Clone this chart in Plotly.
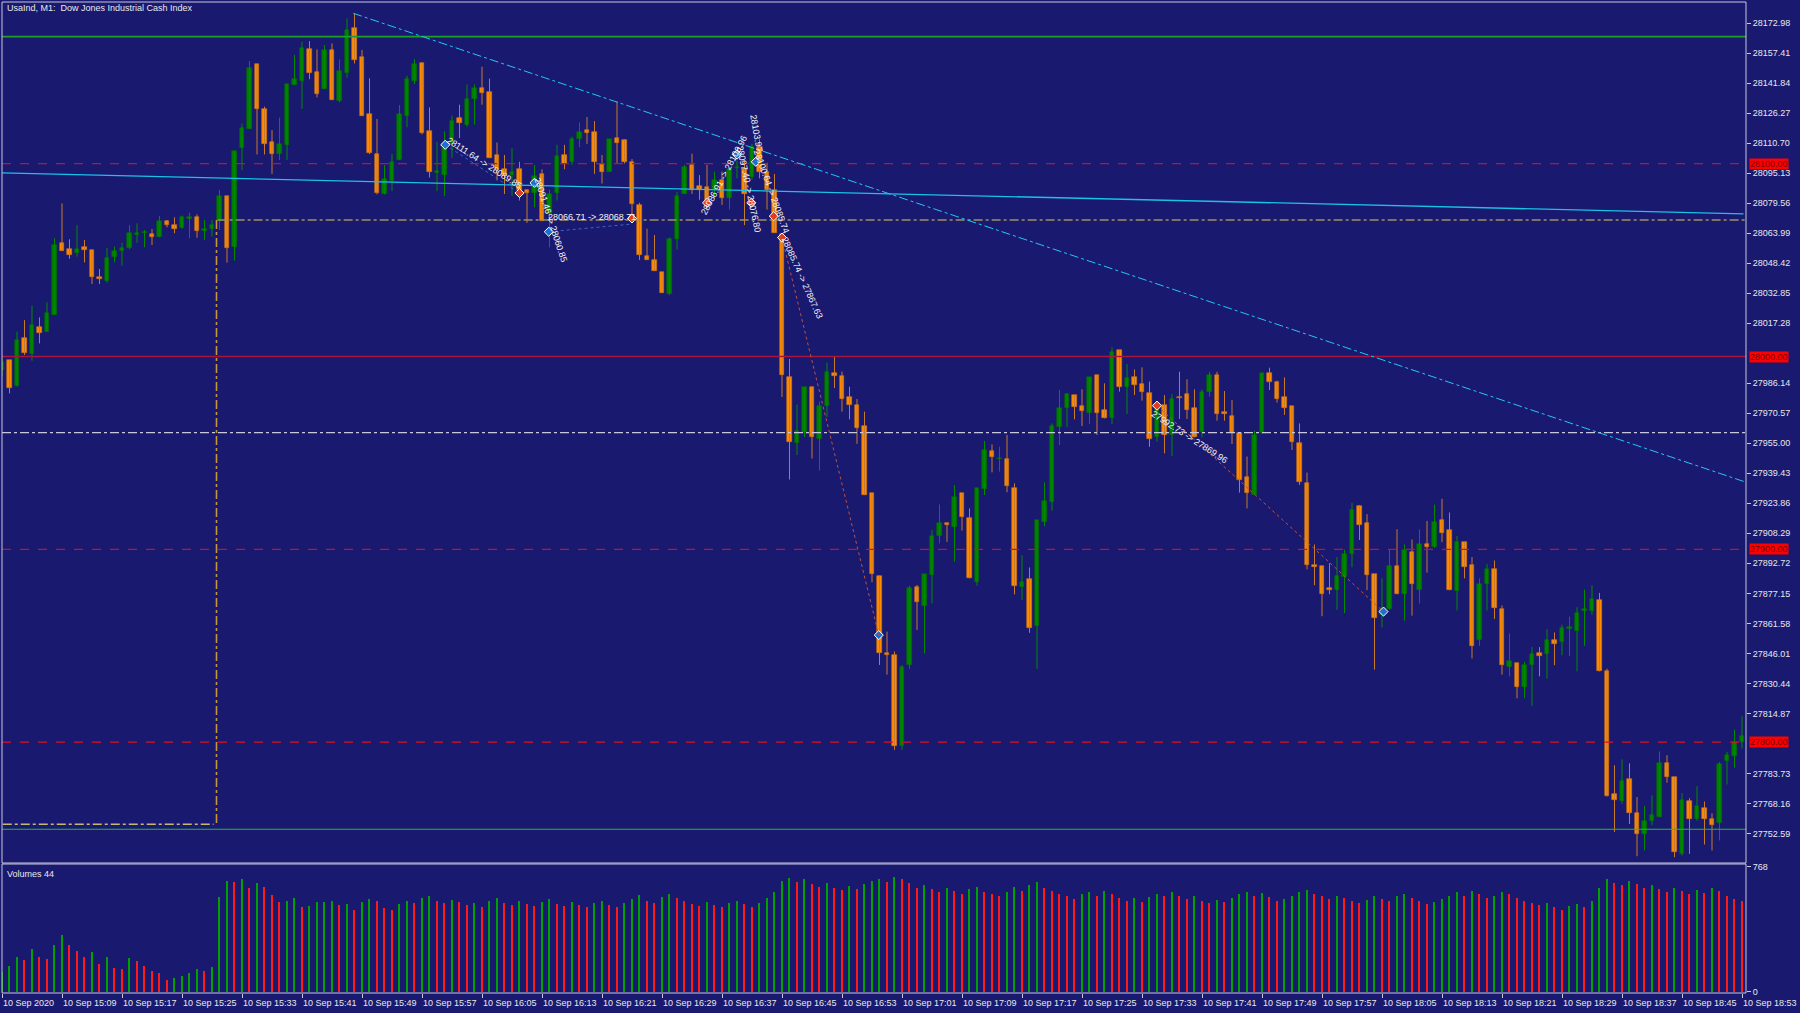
import plotly.graph_objects as go

# ---------------- data ----------------
open_ = [27993.0,27998.2,27984.7,28009.4,28001.3,28015.1,28012.9,28021.5,28058.7,28055.7,
         28053.9,28057.0,28055.2,28041.0,28039.2,28051.8,28054.7,28056.1,28063.0,28063.9,
         28063.4,28062.2,28070.1,28068.0,28066.8,28071.5,28072.2,28065.3,28066.0,28070.4,
         28083.2,28057.0,28108.0,28118.0,28151.5,28128.2,28111.4,28104.8,28109.7,28140.8,
         28142.9,28159.5,28147.4,28138.7,28159.0,28132.7,28146.9,28170.2,28155.2,28125.8,
         28105.0,28084.1,28091.2,28101.9,28124.7,28142.9,28152.4,28117.1,28095.4,28094.1,
         28111.0,28123.7,28120.2,28133.4,28139.4,28137.1,28104.5,28097.5,28094.1,28097.5,
         28086.6,28085.0,28094.7,28073.9,28084.8,28104.5,28101.0,28112.6,28117.4,28116.3,
         28099.9,28095.9,28113.3,28112.1,28101.0,28078.6,28051.9,28050.1,28043.8,28032.3,
         28060.7,28084.3,28099.4,28088.3,28087.8,28086.6,28091.8,28082.0,28098.0,28097.1,
         28093.1,28108.6,28095.9,28086.6,28063.5,27989.4,27955.2,27960.5,27984.1,27957.0,
         27974.4,27991.3,27990.1,27979.0,27975.1,27964.0,27929.2,27886.4,27846.0,27845.2,
         27798.0,27840.0,27880.6,27870.8,27886.7,27906.9,27913.5,27911.7,27929.0,27916.4,
         27883.2,27931.1,27951.0,27946.8,27946.8,27931.9,27880.6,27884.4,27860.2,27914.3,
         27924.7,27963.6,27973.1,27980.0,27974.3,27970.9,27990.4,27972.3,27968.3,28003.4,
         27984.4,27989.2,27985.7,27980.9,27958.4,27974.8,27959.3,27979.2,27980.6,27973.1,
         27961.0,27981.8,27990.4,27971.4,27969.3,27960.1,27937.3,27928.2,27960.1,27991.3,
         27987.0,27979.2,27974.3,27955.3,27934.6,27891.9,27891.1,27880.0,27878.8,27885.8,
         27897.7,27922.3,27913.9,27887.2,27866.1,27868.8,27891.1,27876.7,27898.4,27878.8,
         27903.0,27901.0,27915.3,27910.0,27878.4,27903.9,27891.9,27852.8,27882.0,27889.9,
         27868.8,27838.8,27841.1,27828.8,27840.2,27846.4,27845.5,27853.0,27852.0,27858.7,
         27857.8,27868.2,27867.9,27873.9,27837.1,27773.2,27769.7,27780.9,27763.1,27752.2,
         27759.0,27761.0,27789.4,27781.8,27742.0,27769.2,27759.9,27765.7,27759.9,27757.8,
         27790.2,27792.9,27799.9]
high = [27999.0,27998.2,28012.9,28018.9,28026.4,28020.3,28028.1,28061.3,28079.4,28060.8,
        28068.2,28060.4,28055.2,28045.4,28056.4,28057.0,28059.0,28068.2,28069.1,28065.6,
        28066.1,28072.9,28070.8,28072.2,28073.1,28074.6,28073.7,28070.8,28070.8,28086.4,
        28083.2,28106.6,28120.9,28153.3,28151.5,28129.6,28117.5,28123.9,28141.1,28156.4,
        28163.3,28163.6,28159.3,28161.6,28162.4,28154.1,28175.4,28178.0,28159.0,28144.3,
        28123.2,28099.3,28105.0,28130.4,28145.6,28154.3,28152.4,28129.2,28111.4,28116.8,
        28124.9,28130.6,28141.1,28141.1,28150.3,28144.1,28111.0,28104.5,28108.0,28101.0,
        28086.6,28099.4,28097.1,28086.6,28109.8,28109.8,28114.0,28121.4,28124.2,28122.1,
        28104.5,28112.6,28132.3,28112.6,28102.4,28079.7,28066.3,28063.0,28043.8,28061.7,
        28085.5,28099.4,28105.2,28094.1,28099.4,28095.9,28095.9,28098.2,28101.7,28101.7,
        28110.3,28112.6,28100.5,28094.7,28063.5,27998.7,27975.1,27984.1,27984.1,27976.7,
        27996.8,27999.8,27992.2,27984.3,27977.9,27971.4,27929.2,27886.4,27857.3,27847.0,
        27840.0,27881.0,27881.5,27887.0,27910.0,27923.3,27913.8,27933.3,27929.0,27921.2,
        27931.9,27956.2,27954.4,27953.2,27959.3,27934.2,27897.0,27890.6,27915.2,27934.7,
        27965.3,27982.6,27980.9,27980.0,27983.0,27989.2,27990.4,27986.1,28004.8,28003.4,
        27996.1,27993.3,27994.4,27987.0,27974.8,27980.0,27980.5,27992.1,27988.2,27983.0,
        27983.0,27992.1,27992.1,27982.1,27977.4,27960.1,27948.1,27961.5,27991.3,27994.2,
        27987.5,27989.2,27974.3,27965.3,27939.8,27902.5,27891.1,27892.8,27896.0,27899.8,
        27924.1,27923.0,27918.2,27887.2,27884.9,27899.8,27910.4,27902.5,27905.1,27910.4,
        27914.7,27923.2,27926.2,27919.1,27906.9,27903.9,27896.0,27884.9,27892.3,27894.2,
        27870.9,27856.3,27841.1,27841.6,27849.3,27849.3,27858.6,27856.9,27860.9,27865.1,
        27870.0,27879.1,27881.4,27877.4,27838.1,27788.0,27791.1,27789.0,27771.5,27766.9,
        27772.4,27795.2,27793.2,27781.8,27773.6,27770.9,27777.1,27769.2,27763.1,27789.7,
        27795.0,27806.4,27813.4]
low = [27990.0,27980.9,27984.4,28000.8,27997.8,28006.8,28012.9,28021.5,28054.9,28050.7,
       28051.8,28048.8,28037.6,28037.6,28038.3,28048.8,28047.1,28055.7,28059.0,28056.6,
       28057.8,28061.8,28067.0,28063.9,28066.3,28061.3,28061.6,28060.4,28062.2,28065.6,
       28048.7,28049.7,28096.7,28118.0,28104.8,28104.8,28094.7,28101.9,28101.9,28140.8,
       28128.4,28143.8,28134.4,28138.7,28133.0,28131.8,28144.6,28152.0,28124.7,28105.0,
       28084.1,28084.1,28085.8,28101.9,28118.9,28141.3,28115.2,28092.9,28085.8,28083.2,
       28102.9,28113.3,28119.1,28120.2,28130.6,28102.9,28091.3,28084.3,28083.2,28080.9,
       28069.3,28077.4,28070.5,28056.6,28080.9,28097.1,28099.4,28108.6,28110.3,28094.7,
       28089.7,28095.9,28100.1,28100.1,28070.9,28050.1,28050.1,28044.3,28032.9,28031.8,
       28055.4,28084.3,28084.3,28081.3,28076.2,28082.0,28078.6,28076.2,28092.4,28068.1,
       28091.8,28092.4,28076.2,28064.0,27979.0,27936.2,27948.9,27958.2,27947.1,27940.8,
       27968.6,27983.6,27971.4,27967.4,27954.7,27928.1,27882.9,27840.0,27835.0,27796.0,
       27796.0,27838.0,27858.1,27846.0,27872.0,27903.1,27903.9,27893.6,27909.7,27884.9,
       27881.1,27928.2,27939.9,27940.3,27929.6,27876.6,27873.7,27856.7,27838.0,27912.0,
       27920.0,27954.1,27963.3,27967.4,27963.9,27965.0,27959.3,27967.9,27965.0,27981.8,
       27970.2,27980.0,27977.1,27953.2,27955.8,27949.8,27948.4,27967.6,27967.6,27958.1,
       27958.1,27979.2,27966.7,27966.7,27954.6,27929.4,27921.2,27928.2,27959.8,27982.6,
       27976.1,27969.7,27951.5,27933.4,27889.6,27881.4,27865.3,27876.7,27868.6,27866.9,
       27890.7,27904.8,27878.8,27837.6,27859.5,27868.8,27876.7,27863.0,27865.6,27871.8,
       27887.9,27900.7,27903.7,27878.8,27868.3,27884.9,27843.4,27849.9,27868.3,27863.9,
       27835.0,27834.1,27822.7,27822.7,27818.8,27834.1,27832.9,27839.9,27845.1,27844.6,
       27836.7,27849.9,27866.1,27836.7,27771.8,27753.4,27768.0,27757.5,27740.8,27743.8,
       27756.9,27761.0,27778.9,27740.3,27741.1,27742.0,27759.2,27746.9,27743.8,27749.0,
       27778.0,27786.7,27796.7]
close = [27997.3,27983.5,28008.6,28002.0,28016.2,28012.0,28022.4,28057.8,28054.9,28052.6,
         28055.9,28055.2,28041.0,28040.2,28050.9,28054.9,28056.4,28064.2,28064.2,28064.4,
         28062.2,28070.1,28068.0,28066.0,28072.4,28072.4,28065.1,28066.1,28068.0,28083.2,
         28056.1,28106.6,28118.3,28149.8,28128.2,28110.1,28104.8,28110.0,28141.1,28143.8,
         28160.2,28147.2,28136.0,28159.0,28133.0,28148.1,28169.3,28153.8,28124.7,28105.7,
         28085.0,28091.9,28101.1,28125.6,28143.9,28151.5,28116.1,28095.9,28096.4,28108.6,
         28121.9,28120.9,28133.4,28139.4,28136.9,28102.9,28097.1,28094.1,28095.9,28086.6,
         28085.0,28093.6,28070.5,28084.3,28104.0,28100.1,28112.6,28116.3,28116.0,28101.0,
         28095.9,28112.6,28111.0,28101.0,28079.3,28052.6,28050.1,28044.3,28032.9,28060.7,
         28083.2,28098.2,28086.6,28086.6,28079.7,28091.8,28082.0,28097.1,28098.4,28084.3,
         28108.6,28095.9,28086.6,28064.0,27990.6,27955.9,27961.6,27984.1,27958.2,27974.4,
         27992.2,27990.1,27977.9,27975.1,27962.8,27928.1,27887.1,27846.0,27845.2,27798.0,
         27839.0,27879.7,27872.8,27887.0,27907.1,27913.5,27912.6,27926.9,27916.6,27884.9,
         27931.9,27951.5,27947.7,27947.5,27933.0,27881.1,27883.2,27859.0,27915.2,27925.0,
         27963.9,27973.1,27980.6,27974.0,27971.7,27989.2,27970.9,27967.9,28002.2,27984.4,
         27989.0,27985.2,27981.8,27957.0,27974.0,27959.3,27977.8,27978.3,27972.2,27958.1,
         27981.8,27990.4,27970.2,27970.2,27960.5,27935.9,27929.0,27959.3,27991.3,27986.6,
         27977.8,27973.1,27955.8,27935.1,27891.9,27890.7,27876.7,27879.1,27886.2,27897.7,
         27920.4,27912.6,27886.7,27864.4,27869.2,27891.4,27876.7,27899.5,27882.0,27902.5,
         27901.0,27914.4,27908.6,27878.8,27903.9,27890.7,27849.9,27882.0,27889.7,27869.7,
         27839.9,27842.0,27828.8,27839.9,27845.5,27844.6,27852.8,27851.1,27859.2,27859.6,
         27866.9,27868.8,27874.4,27836.7,27771.8,27770.1,27779.7,27763.1,27752.2,27759.2,
         27762.2,27789.4,27782.0,27742.9,27770.1,27759.9,27766.9,27759.9,27756.9,27788.5,
         27793.2,27799.9,27803.0]
volume = [120,158,215,195,262,215,201,285,348,285,250,215,244,170,215,148,139,209,188,158,
          129,117,72,82,96,117,139,129,152,584,682,676,692,637,666,641,596,551,559,578,
          520,526,551,553,555,533,539,502,551,571,559,514,502,
          540,560,545,575,590,560,548,566,552,530,
          545,520,560,575,548,535,560,540,525,552,
          568,540,528,552,535,520,548,560,533,518,
          546,570,592,560,545,580,600,575,560,540,
          525,550,532,518,545,560,538,522,548,575,
          610,680,700,672,690,660,645,668,640,625,
          650,630,662,680,695,672,705,690,668,640,
          655,630,615,640,620,600,628,645,612,598,
          585,610,642,620,655,675,640,618,600,588,
          570,598,615,590,620,600,578,560,575,550,
          580,600,588,612,590,570,585,560,545,565,
          550,575,600,612,590,605,580,560,572,590,
          610,625,600,585,570,590,575,560,548,565,
          590,572,560,585,600,575,560,540,552,568,
          590,610,585,620,600,575,590,612,598,575,
          560,548,530,545,520,505,525,540,520,560,
          640,690,670,655,680,660,640,655,630,610,
          640,620,600,625,605,640,620,590,570,555]
tick_labels = ["10 Sep 2020", "10 Sep 15:09", "10 Sep 15:17", "10 Sep 15:25", "10 Sep 15:33",
               "10 Sep 15:41", "10 Sep 15:49", "10 Sep 15:57", "10 Sep 16:05", "10 Sep 16:13",
               "10 Sep 16:21", "10 Sep 16:29", "10 Sep 16:37", "10 Sep 16:45", "10 Sep 16:53",
               "10 Sep 17:01", "10 Sep 17:09", "10 Sep 17:17", "10 Sep 17:25", "10 Sep 17:33",
               "10 Sep 17:41", "10 Sep 17:49", "10 Sep 17:57", "10 Sep 18:05", "10 Sep 18:13",
               "10 Sep 18:21", "10 Sep 18:29", "10 Sep 18:37", "10 Sep 18:45", "10 Sep 18:53"]
tick_bars = list(range(0, 233, 8))
price_ticks = [28172.98, 28157.41, 28141.84, 28126.27, 28110.70, 28095.13, 28079.56, 28063.99,
               28048.42, 28032.85, 28017.28, 27986.14, 27970.57, 27955.00, 27939.43, 27923.86,
               27908.29, 27892.72, 27877.15, 27861.58, 27846.01, 27830.44, 27814.87, 27783.73,
               27768.16, 27752.59]
level_labels = [28100.0, 28000.0, 27900.0, 27800.0]

# trade-history marks: (bar, price)
buy_marks = [(59.1, 28109.8), (71.0, 28090.1), (72.9, 28064.7), (98.0, 28104.7),
             (100.5, 28101.0), (116.9, 27855.5), (184.2, 27867.7)]
sell_marks = [(69.0, 28084.8), (84.0, 28071.6), (94.0, 28079.7), (99.9, 28079.7),
              (102.9, 28072.8), (104.0, 28061.7), (154.0, 27974.5)]
trade_texts = [("28111.64 -> 28089.85", 64.3, 28100.5, 33),
               ("28091.46 -> 28060.85", 73.2, 28071.0, 72),
               ("28066.71 -> 28068.71", 78.6, 28072.5, 0),
               ("28086.91 -> 28106.96", 96.3, 28094.0, -62),
               ("28103.97", 100.6, 28116.0, 80),
               ("28097.40 -> 28076.80", 99.6, 28087.0, 78),
               ("28100.64 -> 28085.74", 102.6, 28086.0, 70),
               ("28085.74 -> 27867.63", 106.6, 28041.0, 66),
               ("27992.73 -> 27869.96", 158.3, 27958.0, 33)]

# ---------------- geometry ----------------
W, H = 1800, 1013
BG = "#191970"
X0, X1 = 2, 1746
STEP = 7.5
xr = [(X0 - 2) / STEP, (X1 - 2) / STEP]
P_TOP, P_BOT = 2, 863
V_TOP, V_BOT = 864, 993
PX_PER_PT = 1.928
PRICE_AT_0 = 28184.91
yr = [PRICE_AT_0 - P_BOT / PX_PER_PT, PRICE_AT_0 - P_TOP / PX_PER_PT]
VZERO_PX, VMAX_PX = 991.7, 866.7
vscale = (VZERO_PX - VMAX_PX) / 768.0
vr = [-(V_BOT - VZERO_PX) / vscale, 768 + (VMAX_PX - V_TOP) / vscale]


def py(px):
    return 1 - px / H


def pxx(px):
    return px / W


n = len(open_)
idx = list(range(n))
bull = [c >= o for o, c in zip(open_, close)]

fig = go.Figure()

# wicks
for is_bull, col in [(True, "#008a00"), (False, "#c87a2a")]:
    xs, ys = [], []
    for i in idx:
        if bull[i] == is_bull:
            xs += [i, i, None]
            ys += [low[i], high[i], None]
    fig.add_trace(go.Scatter(x=xs, y=ys, mode="lines", line=dict(color=col, width=1),
                             hoverinfo="skip", showlegend=False, xaxis="x", yaxis="y"))

# bodies
for is_bull, fill, edge in [(True, "#008000", "#006a00"), (False, "#ff8c00", "#d07010")]:
    sel = [i for i in idx if bull[i] == is_bull]
    fig.add_trace(go.Bar(
        x=sel,
        base=[min(open_[i], close[i]) for i in sel],
        y=[max(abs(close[i] - open_[i]), 0.55) for i in sel],
        width=0.64, marker=dict(color=fill, line=dict(color=edge, width=0.6)),
        hoverinfo="skip", showlegend=False, xaxis="x", yaxis="y"))

# volumes (MT4 colouring: green when volume grows, red when it falls)
vcol = ["#00a000"] + ["#00a000" if volume[i] > volume[i - 1] else "#ff1a1a" for i in range(1, n)]
fig.add_trace(go.Bar(x=idx, y=volume, width=0.2, marker=dict(color=vcol, line=dict(width=0)),
                     hoverinfo="skip", showlegend=False, xaxis="x2", yaxis="y2"))

# trade marks
fig.add_trace(go.Scatter(x=[b[0] for b in buy_marks], y=[b[1] for b in buy_marks], mode="markers",
                         marker=dict(symbol="diamond", size=7, color="#1e6fd0",
                                     line=dict(color="white", width=1)),
                         hoverinfo="skip", showlegend=False, xaxis="x", yaxis="y"))
fig.add_trace(go.Scatter(x=[s[0] for s in sell_marks], y=[s[1] for s in sell_marks], mode="markers",
                         marker=dict(symbol="diamond", size=7, color="#e03c1e",
                                     line=dict(color="white", width=1)),
                         hoverinfo="skip", showlegend=False, xaxis="x", yaxis="y"))

shapes = []


def hline(price, color, dash, width=1, x0=None, x1=None):
    if x0 is None:
        shapes.append(dict(type="line", xref="paper", yref="y", x0=pxx(X0), x1=pxx(X1),
                           y0=price, y1=price, line=dict(color=color, dash=dash, width=width)))
    else:
        shapes.append(dict(type="line", xref="x", yref="y", x0=x0, x1=x1,
                           y0=price, y1=price, line=dict(color=color, dash=dash, width=width)))


hline(28165.9, "#1f9e2a", "solid", 1.6)
hline(28100.0, "#c8102e", "dash", 1.3)
hline(28000.0, "#a8143c", "solid", 1.3)
hline(27960.5, "#c8c8dc", "dashdot", 1.3)
hline(27900.0, "#c8102e", "dash", 1.3)
hline(27800.0, "#e0101e", "dash", 1.1)
hline(27754.8, "#22c022", "solid", 1.2)
hline(28070.8, "#a09060", "dashdot", 1.6, 28.75, xr[1])
hline(27757.4, "#c8b878", "dashdot", 1.3, 0.1, 28.2)
shapes.append(dict(type="line", xref="x", yref="y", x0=28.6, x1=28.6, y0=28070.8, y1=27757.4,
                   line=dict(color="#c8963c", dash="dashdot", width=1.6)))
# cyan trend lines
shapes.append(dict(type="line", xref="x", yref="y", x0=xr[0], x1=232.2, y0=28095.2, y1=28074.0,
                   line=dict(color="#19c3e6", width=1.3)))
shapes.append(dict(type="line", xref="x", yref="y", x0=46.84, x1=xr[1], y0=28178.0, y1=27934.8,
                   line=dict(color="#22c8f0", dash="dashdot", width=1)))
# trade link lines
shapes.append(dict(type="line", xref="x", yref="y", x0=104.0, x1=116.9, y0=28061.7, y1=27855.5,
                   line=dict(color="#c0503c", dash="dot", width=1)))
shapes.append(dict(type="line", xref="x", yref="y", x0=154.0, x1=184.2, y0=27974.5, y1=27867.7,
                   line=dict(color="#c0503c", dash="dot", width=1)))
shapes.append(dict(type="line", xref="x", yref="y", x0=59.1, x1=69.0, y0=28109.8, y1=28084.8,
                   line=dict(color="#3c64c8", dash="dot", width=1)))
shapes.append(dict(type="line", xref="x", yref="y", x0=72.9, x1=84.0, y0=28064.7, y1=28068.7,
                   line=dict(color="#3c64c8", dash="dot", width=1)))
# panel frames
for top, bot in [(P_TOP, P_BOT), (V_TOP, V_BOT)]:
    shapes.append(dict(type="rect", xref="paper", yref="paper", x0=pxx(X0), x1=pxx(X1),
                       y0=py(bot), y1=py(top), line=dict(color="#c8c8d8", width=1),
                       fillcolor="rgba(0,0,0,0)"))

annotations = []
FONT = "Liberation Sans, Arial, sans-serif"
annotations.append(dict(text="UsaInd, M1:  Dow Jones Industrial Cash Index", xref="paper", yref="paper",
                        x=pxx(5), y=py(8), xanchor="left", yanchor="middle", showarrow=False,
                        font=dict(family=FONT, size=9, color="#e8e8e8")))
annotations.append(dict(text="Volumes 44", xref="paper", yref="paper",
                        x=pxx(5), y=py(874), xanchor="left", yanchor="middle", showarrow=False,
                        font=dict(family=FONT, size=9, color="#e8e8e8")))
for b, lab in zip(tick_bars, tick_labels):
    annotations.append(dict(text=lab, xref="x2", yref="paper", x=b, y=py(1003), xanchor="left",
                            yanchor="middle", xshift=-1, showarrow=False,
                            font=dict(family=FONT, size=9, color="#e8e8e8")))
for lv in level_labels:
    annotations.append(dict(text=f"{lv:.2f}", xref="paper", yref="y", x=pxx(X1 + 3), y=lv,
                            xanchor="left", yanchor="middle", showarrow=False, bgcolor="#ff0000",
                            borderpad=0, font=dict(family=FONT, size=9, color="#800000")))
for txt, bx, pr, ang in trade_texts:
    annotations.append(dict(text=txt, xref="x", yref="y", x=bx, y=pr, textangle=ang,
                            showarrow=False, font=dict(family=FONT, size=9, color="#f4f4f4")))

axis_font = dict(family=FONT, size=9, color="#e8e8e8")
fig.update_layout(
    width=W, height=H, margin=dict(l=0, r=0, t=0, b=0),
    paper_bgcolor=BG, plot_bgcolor=BG, barmode="overlay", bargap=0,
    showlegend=False, shapes=shapes, annotations=annotations,
    xaxis=dict(domain=[pxx(X0), pxx(X1)], range=xr, showgrid=False, zeroline=False,
               showticklabels=False, ticks="", anchor="y", showline=False),
    xaxis2=dict(domain=[pxx(X0), pxx(X1)], range=xr, matches="x", anchor="y2", showgrid=False,
                zeroline=False, showticklabels=False, ticks="outside", tickvals=tick_bars,
                ticklen=4, tickcolor="#c8c8d8", showline=False),
    yaxis=dict(domain=[py(P_BOT), py(P_TOP)], range=yr, side="right", anchor="x",
               tickvals=price_ticks, ticktext=[f"{v:.2f}" for v in price_ticks],
               ticks="outside", ticklen=4, tickcolor="#c8c8d8", tickfont=axis_font,
               showgrid=False, zeroline=False, showline=False, automargin=False),
    yaxis2=dict(domain=[py(V_BOT), py(V_TOP)], range=vr, side="right", anchor="x2",
                tickvals=[0, 768], ticktext=["0", "768"], ticks="outside", ticklen=4,
                tickcolor="#c8c8d8", tickfont=axis_font, showgrid=False, zeroline=False,
                showline=False, automargin=False),
)

fig.write_html("out.html", config={"displayModeBar": False},
               post_script="document.body.style.margin='0';document.body.style.padding='0';"
                           "document.body.style.overflow='hidden';"
                           "document.body.style.background='#191970';")
